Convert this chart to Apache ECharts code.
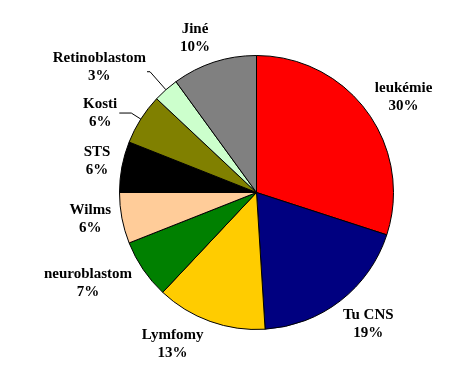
<!DOCTYPE html>
<html>
<head>
<meta charset="utf-8">
<script src="https://cdn.jsdelivr.net/npm/echarts@6/dist/echarts.min.js"></script>
<style>
html,body{margin:0;padding:0;background:#fff;}
#chart{width:458px;height:380px;}
</style>
</head>
<body>
<div id="chart"></div>
<script>
// Data
const categories = ['leukémie', 'Tu CNS', 'Lymfomy', 'neuroblastom', 'Wilms', 'STS', 'Kosti', 'Retinoblastom', 'Jiné'];
const values = [30, 19, 13, 7, 6, 6, 6, 3, 10];

// Styles
const colors = ['#FF0000', '#000080', '#FFCC00', '#008000', '#FFCC99', '#000000', '#808000', '#CCFFCC', '#808080'];
const showLine = [false, false, false, false, false, false, true, true, false];
const lineLen = [26, 29.5, 24, 23.5, 3, 31.4, 11.3, 24, 25.5];
const lineLen2 = [15.2, 9.7, 29.4, 35.8, 28.7, -5.9, 12, 3, 11.3];
const labelGap = [0, 0, 0, 0, 0, 0, 2, 1, 0];
const labelPadBottom = [0, 0, 0, 0, 0, 0, 0, 10, 0];

const chart = echarts.init(document.getElementById('chart'), null, {renderer: 'canvas'});

const seriesData = categories.map((name, i) => ({
  name: name,
  value: values[i],
  itemStyle: {color: colors[i]},
  label: {
    distanceToLabelLine: labelGap[i],
    padding: [0, 0, labelPadBottom[i], 0]
  },
  labelLine: {
    show: showLine[i],
    length: lineLen[i],
    length2: lineLen2[i]
  }
}));

chart.setOption({
  backgroundColor: '#ffffff',
  animation: false,
  series: [{
    type: 'pie',
    center: [256.5, 192.5],
    radius: 137,
    startAngle: 90,
    clockwise: true,
    avoidLabelOverlap: false,
    silent: true,
    itemStyle: {borderColor: '#000000', borderWidth: 1},
    label: {
      show: true,
      position: 'outside',
      overflow: 'none',
      color: '#000000',
      fontFamily: "'Times New Roman', 'Liberation Serif', serif",
      fontWeight: 'bold',
      fontSize: 15,
      lineHeight: 18,
      formatter: p => '{c|' + p.name + '}\n{c|' + Math.round(p.percent) + '%}',
      rich: {
        c: {
          align: 'center',
          color: '#000000',
          fontFamily: "'Times New Roman', 'Liberation Serif', serif",
          fontWeight: 'bold',
          fontSize: 15,
          lineHeight: 18
        }
      }
    },
    labelLine: {
      lineStyle: {color: '#000000', width: 1},
      smooth: false
    },
    labelLayout: function (params) {
      if (!showLine[params.dataIndex]) {
        return {align: 'center'};
      }
      return {};
    },
    data: seriesData
  }]
});
</script>
</body>
</html>
